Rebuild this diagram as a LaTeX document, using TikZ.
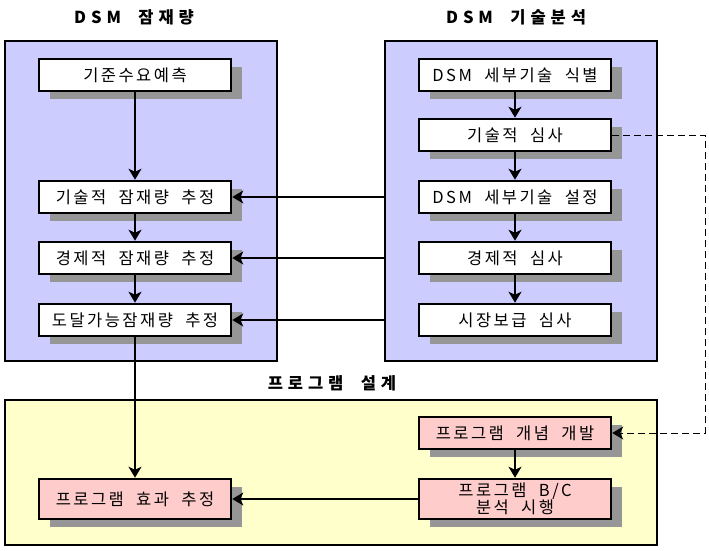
\documentclass[tikz,border=0pt]{standalone}
\usepackage{fontspec}
\setmainfont{Noto Sans CJK KR}[LetterSpace=15,WordSpace=2]
\usetikzlibrary{arrows.meta,shadows}
\definecolor{potfill}{RGB}{204,204,255}
\definecolor{progfill}{RGB}{255,255,204}
\definecolor{boxpink}{RGB}{255,204,204}
\definecolor{shade}{RGB}{150,150,150}
\begin{document}
\begin{tikzpicture}[x=1pt,y=-1pt,
	panel/.style={draw,line width=2.5pt,inner sep=0pt},
	stepbox/.style={draw,fill=white,line width=2.5pt,minimum width=192pt,minimum height=32pt,inner sep=0pt,font=\fontsize{16.5}{18}\selectfont,drop shadow={shadow xshift=11pt,shadow yshift=-8pt,fill=shade,opacity=1}},
	progbox/.style={stepbox,fill=boxpink},
	arr/.style={-{Stealth[length=11pt,width=13pt,inset=3pt]},line width=2pt},
	title/.style={font=\fontsize{16.5}{18}\selectfont\bfseries\addfontfeature{LetterSpace=30}}]
	\useasboundingbox (0,0) rectangle (709,550);
	\node[panel,fill=potfill,minimum width=272pt,minimum height=320pt] (pot) at (141,201) {};
	\node[panel,fill=potfill,minimum width=272pt,minimum height=320pt] (ana) at (521,201) {};
	\node[panel,fill=progfill,minimum width=652pt,minimum height=145pt] (prog) at (331,472.5) {};
	\node[title] (tpot) at (134,17) {DSM 잠재량};
	\node[title] (tana) at (516,17) {DSM 기술분석};
	\node[title] (tprog) at (332,383) {프로그램 설계};
	\node[stepbox] (base) at (135,75) {기준수요예측};
	\node[stepbox] (tech) at (135,197) {기술적 잠재량 추정};
	\node[stepbox] (econ) at (135,258) {경제적 잠재량 추정};
	\node[stepbox] (reach) at (135,320) {도달가능잠재량 추정};
	\node[stepbox] (iden) at (515,75) {DSM 세부기술 식별};
	\node[stepbox] (trev) at (515,135) {기술적 심사};
	\node[stepbox] (setup) at (515,197) {DSM 세부기술 설정};
	\node[stepbox] (erev) at (515,258) {경제적 심사};
	\node[stepbox] (mrev) at (515,320) {시장보급 심사};
	\node[progbox] (concept) at (515,433) {프로그램 개념 개발};
	\node[progbox,minimum height=40pt,align=center,font=\fontsize{16.5}{17}\selectfont] (bc) at (515,499) {프로그램 B/C\\분석 시행};
	\node[progbox,minimum height=40pt] (eff) at (135,499) {프로그램 효과 추정};
	\draw[arr] (base) -- (tech);
	\draw[arr] (tech) -- (econ);
	\draw[arr] (econ) -- (reach);
	\draw[arr] (reach) -- (eff);
	\draw[arr] (iden) -- (trev);
	\draw[arr] (trev) -- (setup);
	\draw[arr] (setup) -- (erev);
	\draw[arr] (erev) -- (mrev);
	\draw[arr] (concept) -- (bc);
	\draw[arr] (bc) -- (eff);
	\draw[arr] (ana.west |- tech) -- (tech);
	\draw[arr] (ana.west |- econ) -- (econ);
	\draw[arr] (ana.west |- reach) -- (reach);
	\draw[arr,line width=1pt,dash pattern=on 7pt off 4pt] (trev.east) -- ++(93,0) |- (concept.east);
\end{tikzpicture}
\end{document}
